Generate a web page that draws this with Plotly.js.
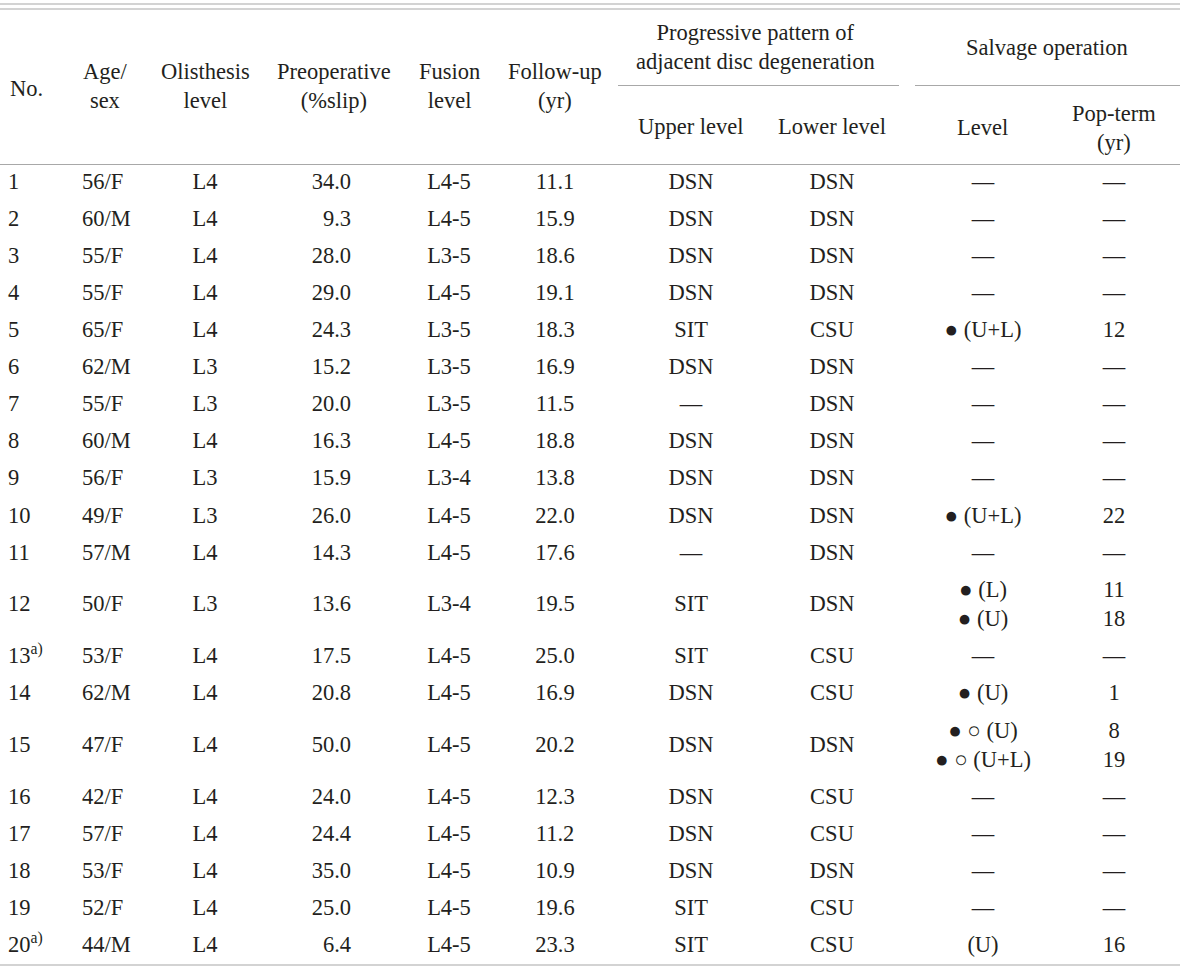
<!DOCTYPE html>
<html>
<head>
<meta charset="utf-8">
<script src="https://cdn.plot.ly/plotly-3.0.1.min.js"></script>
<style>html,body{margin:0;padding:0;background:#fff;}#chart{width:1200px;height:968px;}</style>
</head>
<body>
<div id="chart"></div>
<script>
// ---- data ----
var B = '\u25CF';   // filled circle
var W = '\u25CB';   // open circle
var caseNo = ['1','2','3','4','5','6','7','8','9','10','11','12','13<sup>a)</sup>','14','15','16','17','18','19','20<sup>a)</sup>'];
var ageSex = ['56/F','60/M','55/F','55/F','65/F','62/M','55/F','60/M','56/F','49/F','57/M','50/F','53/F','62/M','47/F','42/F','57/F','53/F','52/F','44/M'];
var olisthesisLevel = ['L4','L4','L4','L4','L4','L3','L3','L4','L3','L3','L4','L3','L4','L4','L4','L4','L4','L4','L4','L4'];
var preopSlip = ['34.0','9.3','28.0','29.0','24.3','15.2','20.0','16.3','15.9','26.0','14.3','13.6','17.5','20.8','50.0','24.0','24.4','35.0','25.0','6.4'];
var fusionLevel = ['L4-5','L4-5','L3-5','L4-5','L3-5','L3-5','L3-5','L4-5','L3-4','L4-5','L4-5','L3-4','L4-5','L4-5','L4-5','L4-5','L4-5','L4-5','L4-5','L4-5'];
var followUp = ['11.1','15.9','18.6','19.1','18.3','16.9','11.5','18.8','13.8','22.0','17.6','19.5','25.0','16.9','20.2','12.3','11.2','10.9','19.6','23.3'];
var upperLevel = ['DSN','DSN','DSN','DSN','SIT','DSN','\u2014','DSN','DSN','DSN','\u2014','SIT','SIT','DSN','DSN','DSN','DSN','DSN','SIT','SIT'];
var lowerLevel = ['DSN','DSN','DSN','DSN','CSU','DSN','DSN','DSN','DSN','DSN','DSN','DSN','CSU','CSU','DSN','CSU','CSU','DSN','CSU','CSU'];
var salvageLevel = ['\u2014','\u2014','\u2014','\u2014', B+' (U+L)','\u2014','\u2014','\u2014','\u2014', B+' (U+L)','\u2014',
  B+' (L)<br>'+B+' (U)','\u2014', B+' (U)', B+' '+W+' (U)<br>'+B+' '+W+' (U+L)','\u2014','\u2014','\u2014','\u2014','(U)'];
var popTerm = ['\u2014','\u2014','\u2014','\u2014','12','\u2014','\u2014','\u2014','\u2014','22','\u2014','11<br>18','\u2014','1','8<br>19','\u2014','\u2014','\u2014','\u2014','16'];

var headerLabels = ['No.','Age/<br>sex','Olisthesis<br>level','Preoperative<br>(%slip)','Fusion<br>level','Follow-up<br>(yr)',
  'Progressive pattern of<br>adjacent disc degeneration','Salvage operation','Upper level','Lower level','Level','Pop-term<br>(yr)'];

// ---- layout constants ----
var FONT = 'Liberation Serif';
var FS = 22.5;
var TXT = '#231f20';
var RULE = '#a8a8a8';
var bodyTop = 164.5, rowBase = 37.1, extraLine = 29.4;

// row centres from the number of text lines in each row
var rowY = [];
var yCur = bodyTop;
for (var i = 0; i < caseNo.length; i++) {
  var lines = Math.max(salvageLevel[i].split('<br>').length, popTerm[i].split('<br>').length);
  var h = rowBase + extraLine * (lines - 1);
  rowY.push(yCur + h / 2);
  yCur += h;
}

var columns = [
  {vals: caseNo,          x: 8,    pos: 'middle right'},
  {vals: ageSex,          x: 82,   pos: 'middle right'},
  {vals: olisthesisLevel, x: 205,  pos: 'middle center'},
  {vals: preopSlip,       x: 351,  pos: 'middle left'},
  {vals: fusionLevel,     x: 449,  pos: 'middle center'},
  {vals: followUp,        x: 555,  pos: 'middle center'},
  {vals: upperLevel,      x: 691,  pos: 'middle center'},
  {vals: lowerLevel,      x: 832,  pos: 'middle center'},
  {vals: salvageLevel,    x: 983,  pos: 'middle center'},
  {vals: popTerm,         x: 1114, pos: 'middle center'}
];

var traces = columns.map(function (c) {
  return {
    type: 'scatter', mode: 'text',
    x: c.vals.map(function () { return c.x; }),
    y: rowY,
    text: c.vals,
    textposition: c.pos,
    textfont: {family: FONT, size: FS, color: TXT},
    hoverinfo: 'skip', showlegend: false, cliponaxis: false
  };
});

var headerPos = [
  {x: 8,    y: 88,   xa: 'left'},
  {x: 105,  y: 86,   xa: 'center'},
  {x: 205,  y: 86,   xa: 'center'},
  {x: 334,  y: 86,   xa: 'center'},
  {x: 449,  y: 86,   xa: 'center'},
  {x: 555,  y: 86,   xa: 'center'},
  {x: 755,  y: 47,   xa: 'center'},
  {x: 1047, y: 47,   xa: 'center'},
  {x: 691,  y: 126,  xa: 'center'},
  {x: 832,  y: 126,  xa: 'center'},
  {x: 982,  y: 127,  xa: 'center'},
  {x: 1114, y: 128,  xa: 'center'}
];
var annotations = headerLabels.map(function (t, k) {
  var p = headerPos[k];
  return {text: t, x: p.x, y: p.y, xref: 'x', yref: 'y', xanchor: p.xa, yanchor: 'middle',
    align: 'center', showarrow: false, font: {family: FONT, size: FS, color: TXT}};
});

function rule(x0, x1, y) {
  return {type: 'line', xref: 'x', yref: 'y', x0: x0, x1: x1, y0: y, y1: y, line: {color: RULE, width: 1.2}};
}
var shapes = [
  rule(0, 1180, 4), rule(0, 1180, 9),
  rule(618, 899, 85.5), rule(915, 1180, 85.5),
  rule(0, 1180, 164.5),
  rule(0, 1180, 965)
];

var layout = {
  width: 1200, height: 968,
  margin: {l: 0, r: 0, t: 0, b: 0, pad: 0},
  paper_bgcolor: '#fff', plot_bgcolor: '#fff',
  xaxis: {range: [0, 1200], visible: false, fixedrange: true},
  yaxis: {range: [968, 0], visible: false, fixedrange: true},
  annotations: annotations,
  shapes: shapes,
  showlegend: false
};

Plotly.newPlot('chart', traces, layout, {displayModeBar: false, staticPlot: true});
</script>
</body>
</html>
